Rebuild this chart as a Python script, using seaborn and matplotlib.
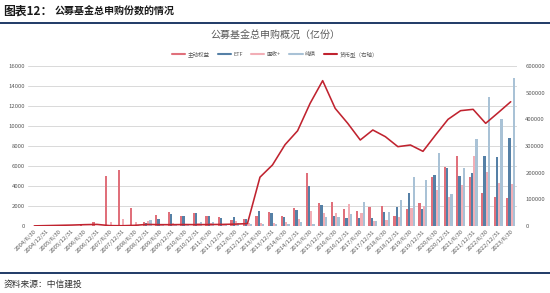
import numpy as np
import pandas as pd
import matplotlib
matplotlib.use("Agg")
import matplotlib.pyplot as plt
import seaborn as sns
from matplotlib.lines import Line2D

dates = ["2004/6/30", "2004/12/31", "2005/6/30", "2005/12/31", "2006/6/30", "2006/12/31",
         "2007/6/30", "2007/12/31", "2008/6/30", "2008/12/31", "2009/6/30", "2009/12/31",
         "2010/6/30", "2010/12/31", "2011/6/30", "2011/12/31", "2012/6/30", "2012/12/31",
         "2013/6/30", "2013/12/31", "2014/6/30", "2014/12/31", "2015/6/30", "2015/12/31",
         "2016/6/30", "2016/12/31", "2017/6/30", "2017/12/31", "2018/6/30", "2018/12/31",
         "2019/6/30", "2019/12/31", "2020/6/30", "2020/12/31", "2021/6/30", "2021/12/31",
         "2022/6/30", "2022/12/31", "2023/6/30"]

active = [30, 20, 30, 50, 150, 400, 5000, 5600, 1800, 400, 1150, 1430, 1030, 1270, 1030, 870,
          600, 700, 1000, 1370, 1000, 1770, 5270, 2330, 2370, 1670, 1530, 1930, 2030, 1030,
          1670, 2270, 4930, 5930, 7030, 4930, 3270, 2870, 2770]
etf = [0, 0, 0, 0, 0, 30, 0, 0, 0, 300, 750, 1170, 1030, 1330, 1000, 850, 870, 700, 1500, 1330,
       930, 1600, 4030, 2100, 1000, 770, 770, 830, 1430, 1930, 3270, 1700, 5100, 5770, 5000,
       5330, 7000, 6930, 8770]
guts = [0, 0, 20, 30, 50, 50, 400, 700, 400, 500, 200, 300, 200, 300, 300, 200, 500, 300, 300,
        300, 400, 730, 1500, 1330, 1270, 2170, 1330, 550, 600, 900, 1770, 2000, 3600, 2930, 4100,
        7000, 5370, 4270, 4200]
bond = [0, 0, 0, 0, 0, 0, 0, 0, 100, 600, 100, 100, 150, 430, 400, 150, 300, 200, 200, 200, 200,
        400, 200, 900, 870, 1200, 2400, 530, 1430, 2600, 4870, 4600, 7330, 3200, 5770, 8730,
        12930, 10670, 14830]
money = [500, 1500, 2500, 3500, 5000, 6000, 1500, 1000, 2500, 6000, 5000, 5000, 5500, 5000, 5500,
         6000, 7000, 9000, 183000, 229000, 305000, 357000, 460000, 545000, 441000, 385000, 322500,
         360000, 335000, 297500, 303750, 280000, 341000, 400000, 432500, 437500, 385000, 425000,
         466000]

series_names = ["主动权益", "ETF", "固收+", "纯债"]
line_name = "货币型（右轴）"
colors = ["#E0707B", "#5580A6", "#F2AEB6", "#A9C2D6"]
line_color = "#C0232F"

sns.set_theme(style="white")
plt.rcParams['font.family'] = ['Noto Sans CJK SC', 'DejaVu Sans']
plt.rcParams['axes.unicode_minus'] = False

df = pd.DataFrame({"date": dates, series_names[0]: active, series_names[1]: etf,
                   series_names[2]: guts, series_names[3]: bond})
long = df.melt(id_vars="date", var_name="类型", value_name="份数")

fig = plt.figure(figsize=(5.5, 2.93), dpi=100)
ax = fig.add_axes([28/550, 1-226/293, 489/550, 160/293])
sns.barplot(data=long, x="date", y="份数", hue="类型", hue_order=series_names,
            palette=colors, width=0.72, saturation=1, ax=ax, legend=False,
            errorbar=None, linewidth=0)
ax.set_ylim(0, 16000)
ax.set_yticks(np.arange(0, 16001, 2000))
ax.set_xlim(-0.5, len(dates) - 0.5)
ax.yaxis.grid(True, color="#D9D9D9", lw=0.7)
ax.set_axisbelow(True)
ax.set_xlabel("")
ax.set_ylabel("")
for s in ax.spines.values():
    s.set_visible(False)
ax.tick_params(axis="both", length=0, labelsize=4.3, colors="#595959", pad=2)
ax.set_xticks(range(len(dates)))
ax.set_xticklabels(dates, rotation=45, ha="right", rotation_mode="anchor")

ax2 = ax.twinx()
sns.pointplot(x=dates, y=money, ax=ax2, color=line_color, markers="", linewidth=1.15,
              errorbar=None)
ax2.set_ylim(0, 600000)
ax2.set_yticks(np.arange(0, 600001, 100000))
ax2.set_xlim(-0.5, len(dates) - 0.5)
ax2.set_ylabel("")
for s in ax2.spines.values():
    s.set_visible(False)
ax2.tick_params(axis="y", length=0, labelsize=4.3, colors="#595959", pad=6)
ax2.grid(False)

handles = [Line2D([], [], color=c, lw=1.5) for c in colors] + [Line2D([], [], color=line_color, lw=1.5)]
labels = series_names + [line_name]
fig.legend(handles, labels, loc="center", bbox_to_anchor=(0.5, 1-54/293), ncol=5,
           frameon=False, fontsize=4.0, handlelength=2.4, columnspacing=1.5, handletextpad=0.4,
           labelcolor="#595959")

fig.text(275/550, 1-36/293, "公募基金总申购概况（亿份）", ha="center", va="center",
         fontsize=7.2, color="#595959")

fig.text(3/550, 1-11/293, "图表12：", ha="left", va="center", fontsize=8.5,
         fontweight="bold", fontstyle="italic", color="#1a1a1a")
fig.text(55/550, 1-11/293, "公募基金总申购份数的情况", ha="left", va="center", fontsize=7.2,
         fontweight="bold", color="#1a1a1a")
fig.add_artist(Line2D([0, 1], [1-22.5/293]*2, color="#1F3A66", lw=1.4))
fig.add_artist(Line2D([0, 1], [1-273/293]*2, color="#1F3A66", lw=1.4))
fig.text(4/550, 1-284/293, "资料来源：中信建投", ha="left", va="center", fontsize=6.3,
         fontstyle="italic", color="#333333")

fig.savefig("out.png", dpi=100)
